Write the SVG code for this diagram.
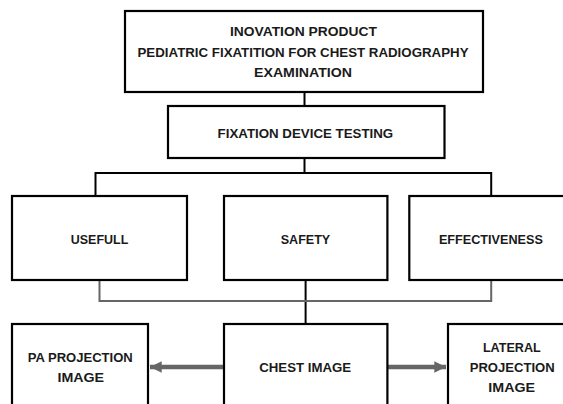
<svg xmlns="http://www.w3.org/2000/svg" width="563" height="404" viewBox="0 0 563 404">
<defs>
<style>
.box{fill:#fff;stroke:#000;stroke-width:2.2}
.t{font-family:"Liberation Sans",Arial,sans-serif;font-weight:bold;font-size:13.5px;fill:#1a1a1a;text-anchor:middle}
.k{fill:none;stroke:#000;stroke-width:2}
.g{fill:none;stroke:#666;stroke-width:2}
.a{fill:none;stroke:#666;stroke-width:4.5}
</style>
<marker id="ah" viewBox="0 0 10 10" refX="10" refY="5" markerWidth="2.6" markerHeight="2.7" orient="auto" markerUnits="strokeWidth">
<path d="M0,0 L10,5 L0,10 Z" fill="#666"/>
</marker>
</defs>
<rect width="563" height="404" fill="#fff"/>
<g id="connectors">
<path class="k" d="M304.5,92 V106"/>
<path class="k" d="M304.5,158 V173 M95.5,173 H491.2 M95.5,172 V196 M491.2,172 V196"/>
<path class="k" d="M305.6,280 V324"/>
<path class="g" d="M99.5,280 V301 H491.2 V280"/>
<path class="a" d="M224,367 H150" marker-end="url(#ah)"/>
<path class="a" d="M387,367 H446" marker-end="url(#ah)"/>
</g>
<g id="n-top">
<rect class="box" x="125" y="11" width="358" height="81"/>
<text class="t" x="303.4" y="36" textLength="147" lengthAdjust="spacingAndGlyphs">INOVATION PRODUCT</text>
<text class="t" x="303" y="56.5" textLength="331" lengthAdjust="spacingAndGlyphs">PEDIATRIC FIXATITION FOR CHEST RADIOGRAPHY</text>
<text class="t" x="303" y="76.5" textLength="98" lengthAdjust="spacingAndGlyphs">EXAMINATION</text>
</g>
<g id="n-testing">
<rect class="box" x="168" y="106" width="276.5" height="52"/>
<text class="t" x="305.4" y="137.5" textLength="175.6" lengthAdjust="spacingAndGlyphs">FIXATION DEVICE TESTING</text>
</g>
<g id="n-usefull">
<rect class="box" x="12" y="196" width="175" height="84"/>
<text class="t" x="99.5" y="244" textLength="57.5" lengthAdjust="spacingAndGlyphs">USEFULL</text>
</g>
<g id="n-safety">
<rect class="box" x="224" y="196" width="163.4" height="84"/>
<text class="t" x="305.5" y="244" textLength="49.5" lengthAdjust="spacingAndGlyphs">SAFETY</text>
</g>
<g id="n-effectiveness">
<rect class="box" x="409.3" y="196" width="200" height="84"/>
<text class="t" x="490.9" y="244" textLength="104" lengthAdjust="spacingAndGlyphs">EFFECTIVENESS</text>
</g>
<g id="n-pa">
<rect class="box" x="12" y="324" width="136" height="100"/>
<text class="t" x="80.2" y="362" textLength="105" lengthAdjust="spacingAndGlyphs">PA PROJECTION</text>
<text class="t" x="80.8" y="382" textLength="46.7" lengthAdjust="spacingAndGlyphs">IMAGE</text>
</g>
<g id="n-chest">
<rect class="box" x="224" y="324" width="163.4" height="100"/>
<text class="t" x="305.2" y="372" textLength="92" lengthAdjust="spacingAndGlyphs">CHEST IMAGE</text>
</g>
<g id="n-lateral">
<rect class="box" x="448" y="324" width="160" height="100"/>
<text class="t" x="511.8" y="352" textLength="57.8" lengthAdjust="spacingAndGlyphs">LATERAL</text>
<text class="t" x="512.2" y="372" textLength="85" lengthAdjust="spacingAndGlyphs">PROJECTION</text>
<text class="t" x="511.7" y="392" textLength="46.7" lengthAdjust="spacingAndGlyphs">IMAGE</text>
</g>
</svg>
